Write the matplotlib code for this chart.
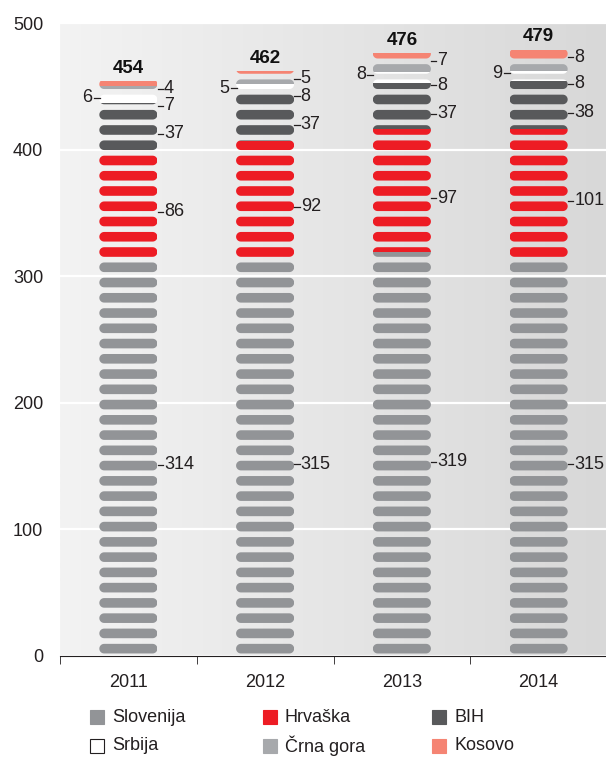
import numpy as np
import matplotlib.pyplot as plt
from matplotlib.path import Path
from matplotlib.patches import Rectangle

plt.rcParams['font.family'] = ['Liberation Sans', 'DejaVu Sans']

# podaci
years = ['2011', '2012', '2013', '2014']
slovenija = [314, 315, 319, 315]
hrvaska = [86, 92, 97, 101]
bih = [37, 37, 37, 38]
srbija = [7, 8, 8, 8]
crna_gora = [6, 5, 8, 9]
kosovo = [4, 5, 7, 8]

names = ['Slovenija', 'Hrvaška', 'BIH', 'Srbija', 'Črna gora', 'Kosovo']
colors = ['#929497', '#ed1c24', '#58595b', '#ffffff', '#a7a9ac', '#f58473']
series = [slovenija, hrvaska, bih, srbija, crna_gora, kosovo]

FS = 13
W, H = 606, 759
fig = plt.figure(figsize=(W / 100, H / 100), dpi=100)
ax = fig.add_axes([60 / W, 103 / H, 547 / W, 633 / H])
ax.set_xlim(-0.5, 3.5)
ax.set_ylim(0, 500)

# pozadina s gradijentom
grad = np.linspace(0, 1, 256).reshape(1, -1)
ax.imshow(grad, extent=[0, 1, 0, 1], transform=ax.transAxes, aspect='auto',
          cmap=plt.matplotlib.colors.LinearSegmentedColormap.from_list('bg', ['#f3f3f3', '#d8d8d8']),
          zorder=0)
ax.set_axisbelow(True)
ax.grid(axis='y', color='white', lw=1.6, zorder=0.5)

bw = 0.425
pitch = 12.05
ph = 7.6
px_x = 547 / 4.0
px_y = 633 / 500.0
rx = (ph * px_y / 2) / px_x
ry = ph / 2


def pills(xc):
    verts, codes = [], []
    t = np.linspace(-np.pi / 2, np.pi / 2, 16)
    k = 0
    while pitch * k < 500:
        y0 = pitch * k + 2.0
        ym = y0 + ry
        xr = xc + bw / 2 - rx
        xl = xc - bw / 2 + rx
        right = np.column_stack([xr + rx * np.cos(t), ym + ry * np.sin(t)])
        left = np.column_stack([xl - rx * np.cos(t), ym - ry * np.sin(t)])
        pts = np.vstack([right, left, right[:1]])
        verts.extend(pts.tolist())
        codes.extend([Path.MOVETO] + [Path.LINETO] * (len(pts) - 2) + [Path.CLOSEPOLY])
        k += 1
    return Path(verts, codes)


x = np.arange(len(years))
clips = [pills(xi) for xi in x]
bottom = np.zeros(len(years))
for vals, c in zip(series, colors):
    bars = ax.bar(x, vals, bottom=bottom, width=bw, color=c, lw=0, zorder=2)
    for i, b in enumerate(bars):
        b.set_clip_path(clips[i], ax.transData)
    bottom = bottom + np.array(vals)

# oznake vrijednosti
bottom = np.zeros(len(years))
for j, vals in enumerate(series):
    for i, v in enumerate(vals):
        if names[j] == 'Kosovo':
            yl = bottom[i] + v - 6
        else:
            yl = bottom[i] + v / 2 - 6
        if names[j] == 'Črna gora':
            ax.plot([i - bw / 2 - 0.04, i - bw / 2 + 0.005], [yl, yl], color='#231f20', lw=0.9, zorder=3)
            ax.text(i - bw / 2 - 0.05, yl, str(v), ha='right', va='center', fontsize=FS, color='#231f20')
        else:
            ax.plot([i + bw / 2 + 0.002, i + bw / 2 + 0.04], [yl, yl], color='#231f20', lw=0.9, zorder=3)
            ax.text(i + bw / 2 + 0.048, yl, str(v), ha='left', va='center', fontsize=FS, color='#231f20')
    bottom = bottom + np.array(vals)

for i, t in enumerate(bottom):
    ax.annotate(str(int(t)), (i, t), xytext=(0, 3), textcoords='offset points',
                ha='center', va='bottom', fontsize=FS + 0.5, fontweight='bold', color='#111111')

for s in ['top', 'right', 'left']:
    ax.spines[s].set_visible(False)
ax.spines['bottom'].set_color('#231f20')
ax.set_xticks(x)
ax.set_xticklabels(years, fontsize=FS, color='#231f20')
ax.set_xticks([-0.5, 0.5, 1.5, 2.5, 3.5], minor=True)
ax.tick_params(axis='x', which='major', length=0, pad=13)
ax.tick_params(axis='x', which='minor', length=6, color='#231f20')
ax.set_yticks([0, 100, 200, 300, 400, 500])
ax.tick_params(axis='y', length=0, pad=12, labelsize=FS, labelcolor='#231f20')

# legenda
cols = [90, 263, 432]
rows = [717, 746]
for j, (n, c) in enumerate(zip(names, colors)):
    cx = cols[j % 3]
    cy = rows[j // 3]
    ec = '#231f20' if c == '#ffffff' else c
    fig.add_artist(Rectangle((cx / W, 1 - (cy + 7) / H), 14 / W, 14 / H, facecolor=c,
                             edgecolor=ec, lw=0.8, transform=fig.transFigure))
    fig.text((cx + 22) / W, 1 - cy / H, n, ha='left', va='center', fontsize=FS, color='#231f20')

fig.savefig('out.png', dpi=100)
